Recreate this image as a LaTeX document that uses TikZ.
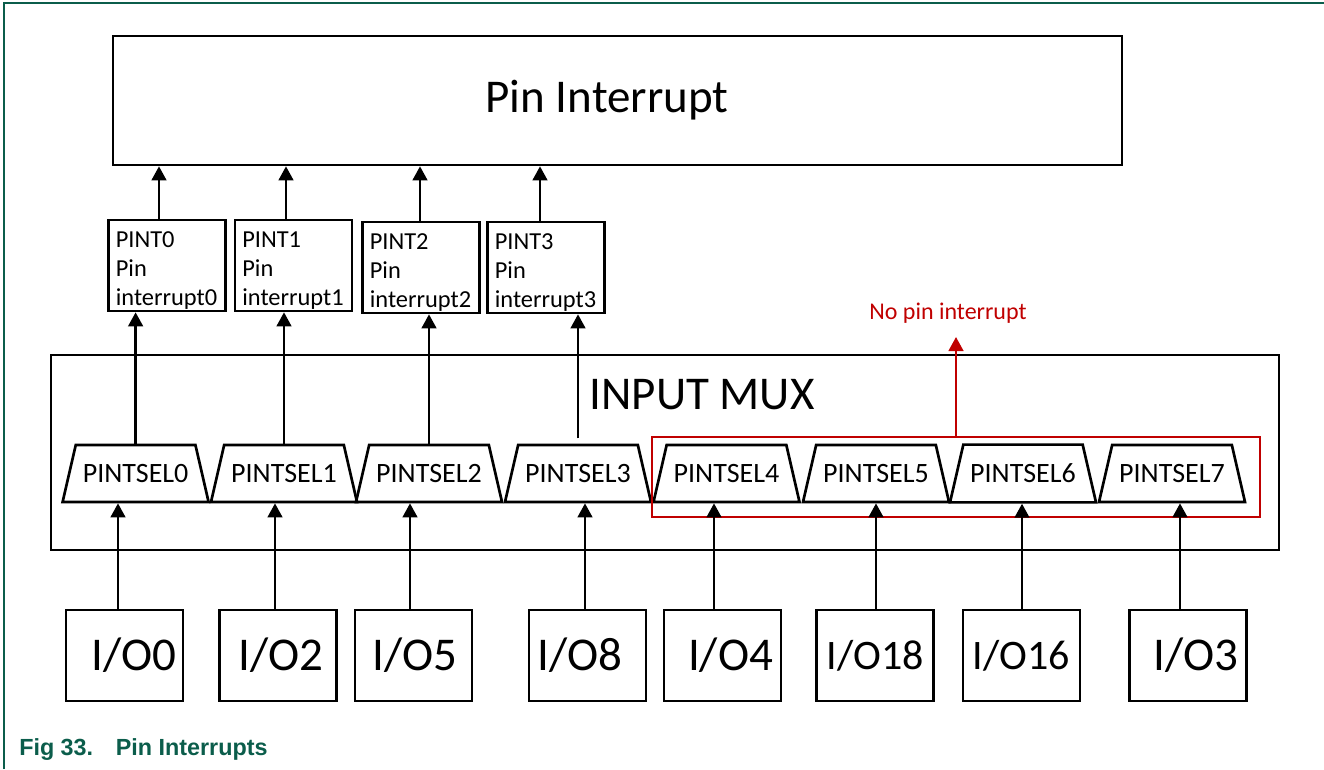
\documentclass[tikz,border=0pt]{standalone}
\usepackage{fontspec}
\setmainfont{Carlito}
\newfontfamily\captionfont{Liberation Sans}
\usetikzlibrary{arrows.meta,calc,shapes.geometric}
\definecolor{NxpGreen}{HTML}{0B5D4B}
\definecolor{NxpRed}{HTML}{C00000}
\tikzset{
  sigarrow/.style={-{Triangle[length=10.5pt,width=11pt]},line width=1.8pt},
  redarrow/.style={sigarrow,draw=NxpRed},
  blockbox/.style={draw,line width=2pt,inner sep=0pt},
  groupbox/.style={draw=NxpRed,line width=2pt,inner sep=0pt},
  pintbox/.style={draw,line width=2pt,minimum width=87.75pt,minimum height=68.25pt,
    text width=76.75pt,inner xsep=5.5pt,inner ysep=0pt,align=left,
    execute at begin node=\rule{0pt}{20pt},
    font=\fontsize{18.3pt}{21.75pt}\selectfont},
  selbox/.style={draw,line width=2pt,trapezium,trapezium left angle=77,trapezium right angle=77,
    trapezium stretches body=true,minimum width=109.5pt,minimum height=42.75pt,
    inner xsep=0pt,inner ysep=14.5pt,font=\fontsize{21pt}{24pt}\selectfont},
  iobox/.style={draw,line width=2pt,minimum width=87.75pt,minimum height=68.25pt,inner sep=0pt},
  titletext/.style={inner sep=0pt,font=\fontsize{35.25pt}{42pt}\selectfont},
  notetext/.style={inner sep=0pt,text=NxpRed,font=\fontsize{18pt}{22pt}\selectfont},
  captiontext/.style={inner sep=0pt,text=NxpGreen,font=\captionfont\bfseries\fontsize{17.5pt}{20pt}\selectfont},
  framerule/.style={draw=NxpGreen,line width=1.2pt}
}

\begin{document}
\begin{tikzpicture}[x=0.75pt,y=-0.75pt]
  \useasboundingbox (0,0) rectangle (1324,769);
  \draw[framerule] (4,769) -- (4,3) -- (1324,3);
  \node[captiontext,anchor=base west] (caption) at (19,755) {Fig 33.\hspace{17pt}Pin Interrupts};

  % interrupt block
  \node[blockbox,minimum width=756.75pt,minimum height=96.75pt] (pinint) at (617.5,100.5) {};
  \node[titletext] (pinlbl) at (607,100) {Pin Interrupt};

  \node[pintbox] (pint0) at (167,265.5) {PINT0\\Pin\\interrupt0};
  \node[pintbox] (pint1) at (293.5,265.5) {PINT1\\Pin\\interrupt1};
  \node[pintbox] (pint2) at (421,267.5) {PINT2\\Pin\\interrupt2};
  \node[pintbox] (pint3) at (546,267.5) {PINT3\\Pin\\interrupt3};

  % input mux
  \node[blockbox,minimum width=921pt,minimum height=146.25pt] (mux) at (665,452.5) {};
  \node[titletext] (muxlbl) at (702,395) {INPUT MUX};
  \foreach \i/\x in {0/135.6,1/284,2/429,3/578,4/726.5,5/876,6/1023,7/1172}
    \node[selbox] (sel\i) at (\x,473.5) {PINTSEL\i};

  \node[groupbox,minimum width=456pt,minimum height=60pt] (nopingrp) at (956,477) {};
  \node[notetext] (nopin) at (948,313) {No pin interrupt};
  \coordinate (nopintip) at (956,337);
  \draw[redarrow] (nopingrp.north) -- (nopintip);

  % pins
  \foreach \n/\x/\f/\t in {0/124.5/35.25/14.25,2/278/35.25/4.5,5/413.5/35.25/2.25,8/587.5/35.25/-11.25,
      4/722.5/35.25/12,18/875/31.5/0,16/1021.5/31.5/0,3/1188/35.25/12}
    \node[iobox] (io\n) at (\x,655.5) {\fontsize{\f pt}{40pt}\selectfont\hspace*{\t pt}I/O\n};

  \foreach \s/\n/\dx in {0/0/-6.5,1/2/-3,2/5/-3.5,3/8/-2.5,4/4/-8.5,5/18/1,6/16/0.5,7/3/-8}
    \draw[sigarrow] ($(io\n.north)+(\dx,0)$) coordinate (iotop) -- (iotop |- sel\s.south);

  \foreach \i in {0,1,2}
    \draw[sigarrow] (sel\i.north) -- (sel\i.north |- pint\i.south);
  \draw[sigarrow,shorten <=4pt] (sel3.north) -- (sel3.north |- pint3.south);

  \foreach \i/\dx in {0/-8,1/-7.5,2/-1,3/-6}
    \draw[sigarrow] ($(pint\i.north)+(\dx,0)$) coordinate (pinttop) -- (pinttop |- pinint.south);
\end{tikzpicture}
\end{document}
